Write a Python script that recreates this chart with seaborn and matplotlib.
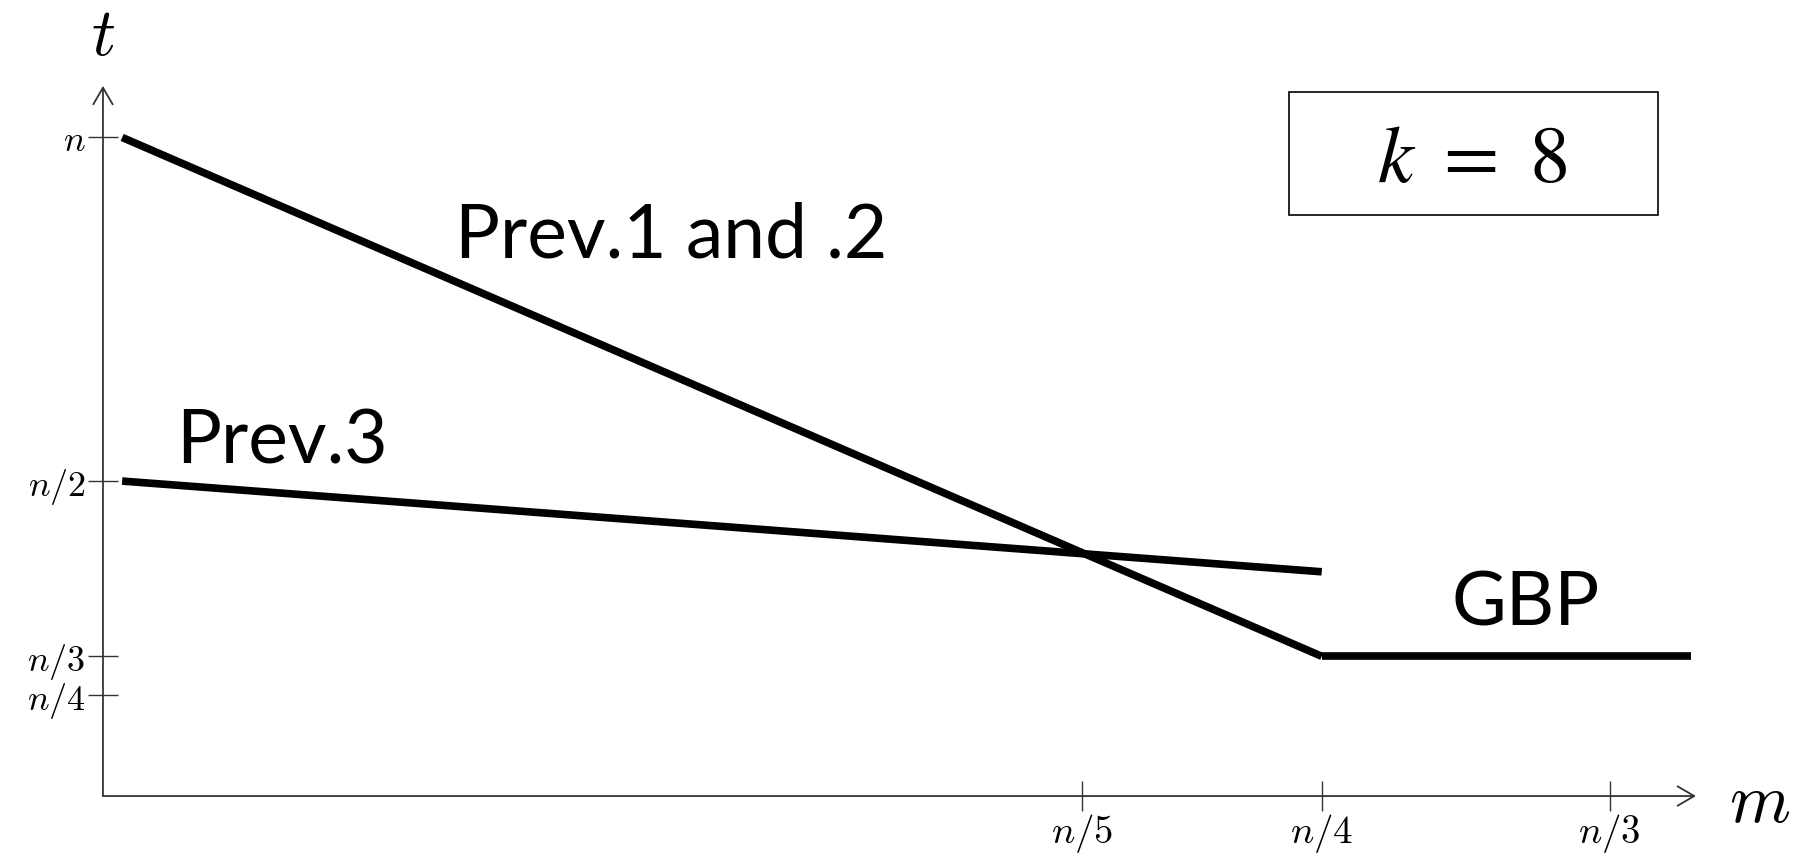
import pandas as pd
import seaborn as sns
import matplotlib.pyplot as plt
from matplotlib.patches import Rectangle

# schematic values (m on x, t on y, n = 1)
prev12_m = [0.0, 0.25]
prev12_t = [1.0, 0.245]
prev3_m = [0.0, 0.25]
prev3_t = [0.5, 0.368]
gbp_m = [0.25, 0.327]
gbp_t = [0.245, 0.245]

x_ticks = [0.2, 0.25, 0.31]
x_labels = ['$n/5$', '$n/4$', '$n/3$']
y_ticks = [1.0, 0.5, 0.245, 0.188]
y_labels = ['$n$', '$n/2$', '$n/3$', '$n/4$']

sns.set_style('white')
plt.rcParams['mathtext.fontset'] = 'cm'
plt.rcParams['font.family'] = ['Lato', 'DejaVu Sans']
plt.rcParams['text.color'] = 'black'
plt.rcParams['xtick.color'] = 'black'
plt.rcParams['ytick.color'] = 'black'

fig = plt.figure(figsize=(17.97, 8.59), dpi=100)
ax = fig.add_axes([0.0573, 0.0733, 0.8865, 0.8267])

lines = pd.concat([
    pd.DataFrame({'m': prev12_m, 't': prev12_t, 'name': 'Prev.1 and .2'}),
    pd.DataFrame({'m': prev3_m, 't': prev3_t, 'name': 'Prev.3'}),
    pd.DataFrame({'m': gbp_m, 't': gbp_t, 'name': 'GBP'}),
])
sns.lineplot(data=lines, x='m', y='t', hue='name', units='name', estimator=None,
             palette=['black'] * 3, linewidth=5.5, legend=False, ax=ax,
             solid_capstyle='butt')

ax.set_xlim(-0.004, 0.328)
ax.set_ylim(0.0417, 1.075)
for s in ax.spines.values():
    s.set_visible(False)

axis_col = '#333333'
for end in [(1, 0), (0, 1)]:
    ax.annotate('', xy=end, xytext=(0, 0), xycoords='axes fraction',
                arrowprops=dict(arrowstyle='->,head_length=0.6,head_width=0.35',
                                mutation_scale=20, lw=1.3, color=axis_col,
                                shrinkA=0, shrinkB=0))

ax.set_xticks(x_ticks)
ax.set_xticklabels(x_labels, fontsize=28)
ax.set_yticks(y_ticks)
ax.set_yticklabels(y_labels, fontsize=26)
ax.tick_params(bottom=True, left=True, direction='inout', length=21, width=1,
               color=axis_col, labelcolor='black')
ax.tick_params(axis='x', pad=1)
ax.tick_params(axis='y', pad=2)
ax.set_xlabel('')
ax.set_ylabel('')

ax.text(0.1144, 0.825, 'Prev.1 and .2', fontsize=54, ha='center', va='baseline')
ax.text(0.0334, 0.525, 'Prev.3', fontsize=54, ha='center', va='baseline')
ax.text(0.2924, 0.29, 'GBP', fontsize=54, ha='center', va='baseline')

fig.text(0.0573, 0.958, '$t$', fontsize=48, ha='center', va='center')
fig.text(0.979, 0.066, '$m$', fontsize=50, ha='center', va='center')

fig.patches.append(Rectangle((0.7173, 0.7497), 0.2053, 0.1432, transform=fig.transFigure,
                             fill=False, edgecolor='black', lw=1.2))
fig.text(0.8192, 0.788, '$k\\ =\\ 8$', fontsize=58, ha='center', va='baseline',
         math_fontfamily='stix')

fig.savefig('out.png', dpi=100, facecolor='white')
